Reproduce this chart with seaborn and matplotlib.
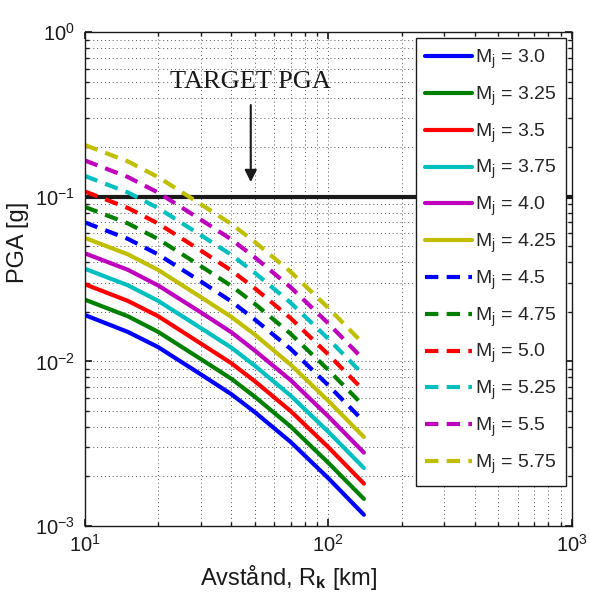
import numpy as np
import pandas as pd
import matplotlib
matplotlib.use("Agg")
import matplotlib.pyplot as plt
import seaborn as sns

# distances [km]
distance = [10, 15, 20, 30, 40, 50, 70, 100, 140]

magnitudes = ["3.0", "3.25", "3.5", "3.75", "4.0", "4.25",
              "4.5", "4.75", "5.0", "5.25", "5.5", "5.75"]

# PGA [g] for each magnitude
pga_30 = [0.0191, 0.0151, 0.0122, 0.00832, 0.00631, 0.00490, 0.00324, 0.00195, 0.00117]
pga_325 = [0.0237, 0.0188, 0.0151, 0.0103, 0.00783, 0.00608, 0.00402, 0.00242, 0.00146]
pga_35 = [0.0294, 0.0233, 0.0188, 0.0128, 0.00973, 0.00755, 0.00499, 0.00301, 0.00181]
pga_375 = [0.0365, 0.0290, 0.0233, 0.0159, 0.0121, 0.00938, 0.00619, 0.00373, 0.00225]
pga_40 = [0.0453, 0.0360, 0.0289, 0.0198, 0.0150, 0.0116, 0.00769, 0.00463, 0.00279]
pga_425 = [0.0562, 0.0447, 0.0359, 0.0245, 0.0186, 0.0145, 0.00955, 0.00575, 0.00347]
pga_45 = [0.0698, 0.0555, 0.0446, 0.0305, 0.0231, 0.0179, 0.0119, 0.00715, 0.00431]
pga_475 = [0.0867, 0.0689, 0.0553, 0.0378, 0.0287, 0.0223, 0.0147, 0.00887, 0.00535]
pga_50 = [0.1076, 0.0855, 0.0687, 0.0470, 0.0356, 0.0277, 0.0183, 0.0110, 0.00664]
pga_525 = [0.1337, 0.1062, 0.0853, 0.0583, 0.0443, 0.0344, 0.0227, 0.0137, 0.00824]
pga_55 = [0.166, 0.1318, 0.1059, 0.0724, 0.0550, 0.0427, 0.0282, 0.0170, 0.0102]
pga_575 = [0.206, 0.164, 0.1315, 0.0899, 0.0682, 0.0530, 0.0350, 0.0211, 0.0127]

all_pga = [pga_30, pga_325, pga_35, pga_375, pga_40, pga_425,
           pga_45, pga_475, pga_50, pga_525, pga_55, pga_575]

target_pga = 0.1
target_dist = 48

# matlab style colours b g r c m y
colors = [(0, 0, 1), (0, 0.5, 0), (1, 0, 0), (0, 0.75, 0.75), (0.75, 0, 0.75), (0.75, 0.75, 0)]

sns.set_theme(style="ticks")
plt.rcParams["font.family"] = ["Liberation Sans", "DejaVu Sans"]
plt.rcParams["mathtext.fontset"] = "custom"
plt.rcParams["mathtext.rm"] = "Liberation Sans"
plt.rcParams["mathtext.it"] = "Liberation Sans"
plt.rcParams["mathtext.bf"] = "Liberation Sans:bold"

fig = plt.figure(figsize=(5.9, 5.95), dpi=100)
ax = fig.add_axes([0.144, 0.116, 0.825, 0.830])

for i, (mag, pga) in enumerate(zip(magnitudes, all_pga)):
    df = pd.DataFrame({"dist": distance, "pga": pga})
    ls = "-" if i < 6 else (0, (3.2, 2.0))
    sns.lineplot(data=df, x="dist", y="pga", ax=ax, color=colors[i % 6],
                 linewidth=3, linestyle=ls, legend=False,
                 label=r"M$_{\rm j}$ = " + mag)

ax.axhline(target_pga, color="k", linewidth=3, zorder=1)

ax.set_xscale("log")
ax.set_yscale("log")
ax.set_xlim(10, 1000)
ax.set_ylim(1e-3, 1)

ax.grid(True, which="both", color="k", linestyle=(0, (1, 3)), linewidth=0.7, alpha=0.75)
ax.tick_params(which="both", direction="in", top=True, right=True, labelsize=14.5, colors="k")
ax.tick_params(axis="x", which="major", pad=6)
ax.tick_params(axis="y", which="major", pad=7)
ax.tick_params(which="major", length=5)
ax.tick_params(which="minor", length=3)
for s in ax.spines.values():
    s.set_color("k")
    s.set_linewidth(1.0)

ax.set_xlabel(r"Avstånd, R$_\mathbf{k}$ [km]", fontsize=17, color="k")
ax.set_ylabel("PGA [g]", fontsize=17, color="k")
ax.xaxis.set_label_coords(0.419, -0.075)
ax.yaxis.set_label_coords(-0.115, 0.575)

ax.annotate("", xy=(target_dist, 0.118), xytext=(target_dist, 0.375),
            arrowprops=dict(arrowstyle="-|>", color="k", lw=1.5, mutation_scale=18))
ax.text(target_dist, 0.50, "TARGET PGA", ha="center", va="center",
        fontsize=19, family=["Liberation Serif", "DejaVu Serif"], color="k")

handles = ax.get_lines()[:12]
leg = ax.legend(handles=handles, loc="upper right", fontsize=14, handlelength=2.4,
                labelspacing=0.7, borderaxespad=0.3, fancybox=False, framealpha=1,
                edgecolor="k", handletextpad=0.15, borderpad=0.5)
leg.get_frame().set_linewidth(1.0)

fig.savefig("out.png", dpi=100, facecolor="white")
